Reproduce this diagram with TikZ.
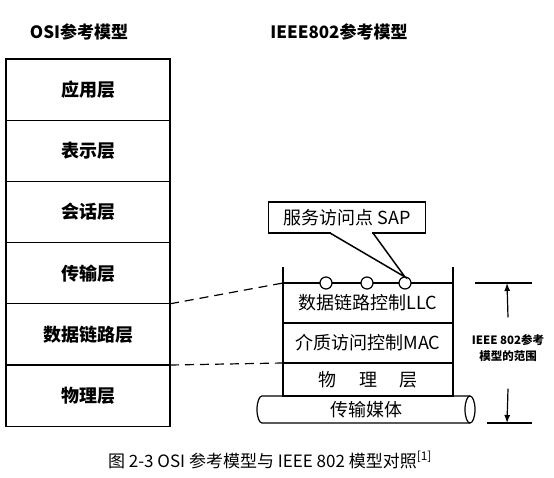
\documentclass[tikz,border=0pt]{standalone}
\usepackage{fontspec}
\setmainfont{Noto Sans CJK SC}
\usetikzlibrary{arrows.meta}

\begin{document}
\begin{tikzpicture}[
    x=1pt,  % one unit is one pixel of the reference
    y=-1pt, % y grows downwards, as in the reference
    every node/.style={inner sep=0pt, outer sep=0pt},
    line width=1.2pt,
    osi layer/.style={draw, minimum width=164pt, minimum height=61.2pt,
        anchor=north, font=\fontsize{18}{20}\selectfont\bfseries},
    ieee layer/.style={draw, minimum width=170pt, anchor=north,
        font=\fontsize{18}{20}\selectfont},
    sap dot/.style={draw, circle, fill=white, minimum size=12pt},
    sap box/.style={draw, fill=white, minimum width=157pt, minimum height=31pt,
        font=\fontsize{18}{20}\selectfont},
    link/.style={dash pattern=on 9pt off 6pt},
    range arrow/.style={-{Latex[length=8pt, width=6pt]}},
    title/.style={font=\fontsize{17}{19}\selectfont\bfseries},
    caption/.style={font=\fontsize{17}{19}\selectfont}
    ]
\useasboundingbox (0,0) rectangle (554,477);

% --- Define data ---
\def\osiLayers{应用层, 表示层, 会话层, 传输层, 数据链路层, 物理层}

% --- Titles ---
\node[title] (osiTitle) at (79,32) {OSI参考模型};
\node[title] (ieeeTitle) at (339,32) {IEEE802参考模型};

% --- OSI stack (left) ---
\foreach \name [count=\i] in \osiLayers {
    \node[osi layer] (O-\i) at (88, {59 + 61.2*(\i-1)}) {\name};
}

% --- IEEE 802 stack (right) ---
\node[ieee layer, minimum height=40pt] (LLC) at (368,283) {数据链路控制LLC};
\node[ieee layer, minimum height=40pt] (MAC) at (368,323) {介质访问控制MAC};
\node[ieee layer, minimum height=33pt] (PHY) at (368,363) {物\hspace{1.25em}理\hspace{1.25em}层};
\draw (LLC.north west) -- ++(0,-16);
\draw (LLC.north east) -- ++(0,-16);

% --- Transmission medium (cylinder) ---
\node[font=\fontsize{18}{20}\selectfont] (MED) at (366,409.5) {传输媒体};
\draw (470,396) -- (262,396)
    arc[start angle=90, end angle=270, x radius=5pt, y radius=13.5pt] -- (470,423);
\draw (470,409.5) ellipse[x radius=5pt, y radius=13.5pt];

% --- Service access points ---
\foreach \x [count=\i] in {326,367,405} {
    \node[sap dot] (S-\i) at (\x,283) {};
}
\node[sap box] (SAP) at (347,217.5) {服务访问点 SAP};
% pointer of the callout, from the box down to the third access point
\draw[white, line width=3pt] (331,233) -- (372,233);
\draw[black, line width=1.5pt] (330,233) -- (405,277) -- (373,233);

% --- Dashed correspondence ---
\draw[link] (O-4.south east) -- (LLC.north west);
\draw[link] (O-5.south east) -- (MAC.south west);

% --- Range of the IEEE 802 model ---
\coordinate (rangeTop) at (507,283);
\coordinate (rangeBot) at (507,423);
\draw ([xshift=-32pt]rangeTop) -- ([xshift=25pt]rangeTop);
\draw ([xshift=-20pt]rangeBot) -- ([xshift=25pt]rangeBot);
\node[font=\fontsize{11.5}{16}\selectfont\bfseries, align=center] (RNG) at (508,348) {IEEE 802参考\\模型的范围};
\draw[range arrow] ([yshift=17pt]RNG.north) -- (rangeTop);
\draw[range arrow] ([yshift=-27pt]RNG.south) -- (rangeBot);

% --- Caption ---
\node[caption] (CAP) at (270,460) {图 2-3 OSI 参考模型与 IEEE 802 模型对照\textsuperscript{[1]}};

\end{tikzpicture}
\end{document}
